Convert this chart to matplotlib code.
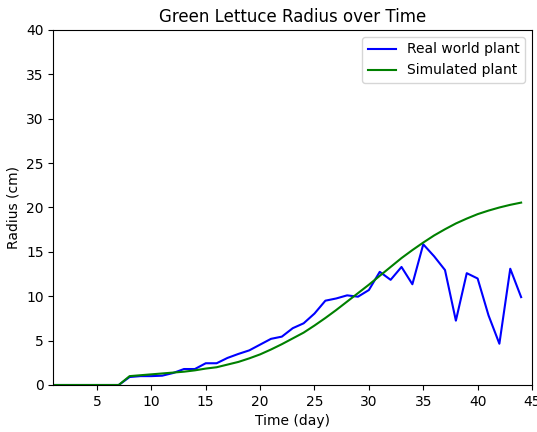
import matplotlib
matplotlib.use('Agg')
import matplotlib.pyplot as plt

days = list(range(1, 45))

real_radius = [0, 0, 0, 0, 0, 0, 0, 0.9, 1.0, 1.0,
               1.05, 1.35, 1.8, 1.8, 2.45, 2.45, 3.05, 3.5, 3.9, 4.55,
               5.2, 5.45, 6.4, 6.95, 8.05, 9.5, 9.75, 10.1, 9.95, 10.7,
               12.75, 11.85, 13.3, 11.35, 15.85, 14.5, 12.95, 7.25, 12.6, 12.0,
               7.85, 4.65, 13.1, 9.9]

sim_radius = [0, 0, 0, 0, 0, 0, 0, 1.0, 1.1, 1.2,
              1.3, 1.4, 1.5, 1.65, 1.85, 2.0, 2.3, 2.6, 3.0, 3.45,
              4.0, 4.6, 5.25, 5.9, 6.7, 7.55, 8.45, 9.4, 10.35, 11.3,
              12.3, 13.3, 14.3, 15.2, 16.05, 16.85, 17.55, 18.2, 18.75, 19.25,
              19.65, 20.0, 20.3, 20.55]

fig, ax = plt.subplots(figsize=(5.37, 4.32), dpi=100)
fig.subplots_adjust(left=0.0996, right=0.9907, top=0.9306, bottom=0.1088)

ax.plot(days, real_radius, color='blue', label='Real world plant')
ax.plot(days, sim_radius, color='green', label='Simulated plant')

ax.set_xlim(1, 45)
ax.set_ylim(0, 40)
ax.set_xticks([5, 10, 15, 20, 25, 30, 35, 40, 45])
ax.set_title('Green Lettuce Radius over Time')
ax.set_xlabel('Time (day)')
ax.set_ylabel('Radius (cm)')
ax.legend(loc='upper right')

fig.savefig('out.png')
